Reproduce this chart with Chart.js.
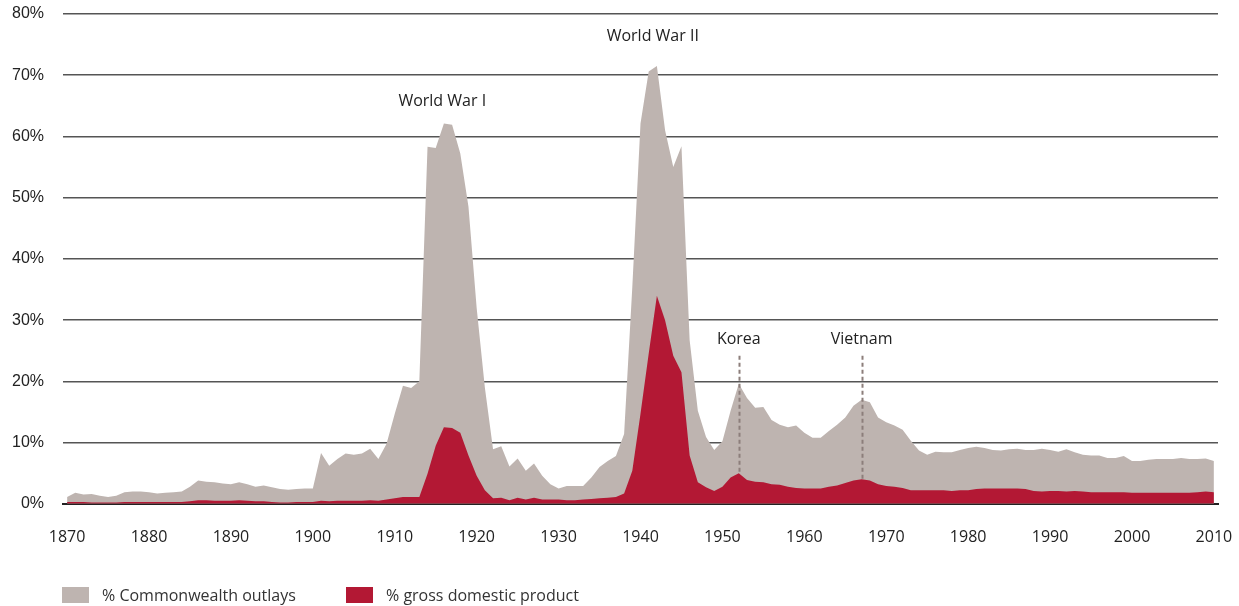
<!DOCTYPE html>
<html>
<head>
<meta charset="utf-8">
<script src="https://cdn.jsdelivr.net/npm/chart.js@4/dist/chart.umd.min.js"></script>
<style>
  body { margin: 0; background: #fff; }
  #wrap { position: relative; width: 1239px; height: 606px; }
  .legend { position: absolute; top: 584px; left: 62px; font: 16px "Open Sans", sans-serif; color: #333; }
  .legend span.item { position: absolute; white-space: nowrap; display: flex; align-items: center; }
  .legend i { display: inline-block; width: 27px; height: 16px; margin-right: 13px; }
</style>
</head>
<body>
<div id="wrap">
  <canvas id="chart" width="1239" height="606"></canvas>
  <div class="legend" id="legend"></div>
</div>
<script>
// years on the x axis
const years = [];
for (let y = 1870; y <= 2010; y++) years.push(y);

// % of Commonwealth outlays (grey)
const outlays = [
  1.1, 1.8, 1.5, 1.6, 1.3, 1.1, 1.3, 1.9, 2.0, 2.0,      // 1870s
  1.9, 1.7, 1.8, 1.9, 2.0, 2.8, 3.8, 3.6, 3.5, 3.3,      // 1880s
  3.2, 3.5, 3.2, 2.8, 3.0, 2.7, 2.4, 2.3, 2.4, 2.5,      // 1890s
  2.5, 8.3, 6.2, 7.3, 8.2, 8.0, 8.2, 9.0, 7.3, 9.8,      // 1900s
  14.7, 19.3, 18.9, 20.0, 58.3, 58.1, 62.1, 61.9, 57.2, 48.5, // 1910s
  32.0, 19.0, 8.9, 9.4, 6.1, 7.4, 5.4, 6.6, 4.6, 3.2,    // 1920s
  2.5, 2.9, 2.9, 2.9, 4.3, 6.0, 7.0, 7.8, 11.4, 35.4,    // 1930s
  62.1, 70.6, 71.5, 61.0, 55.0, 58.4, 26.7, 15.2, 10.9, 8.8, // 1940s
  10.2, 15.2, 19.6, 17.3, 15.7, 15.8, 13.7, 12.9, 12.5, 12.8, // 1950s
  11.6, 10.8, 10.8, 11.9, 12.9, 14.1, 16.0, 17.0, 16.6, 14.1, // 1960s
  13.3, 12.8, 12.1, 10.3, 8.7, 8.0, 8.5, 8.4, 8.4, 8.8,  // 1970s
  9.1, 9.3, 9.1, 8.8, 8.7, 8.9, 9.0, 8.8, 8.8, 9.0,      // 1980s
  8.8, 8.5, 8.9, 8.4, 8.0, 7.9, 7.9, 7.5, 7.5, 7.8,      // 1990s
  7.0, 7.0, 7.2, 7.3, 7.3, 7.3, 7.5, 7.3, 7.3, 7.4,      // 2000s
  7.0                                                    // 2010
];

// % of gross domestic product (red)
const gdp = [
  0.3, 0.3, 0.3, 0.2, 0.2, 0.2, 0.2, 0.3, 0.3, 0.3,
  0.3, 0.3, 0.3, 0.3, 0.3, 0.4, 0.6, 0.6, 0.5, 0.5,
  0.5, 0.6, 0.5, 0.4, 0.4, 0.3, 0.2, 0.2, 0.3, 0.3,
  0.3, 0.5, 0.4, 0.5, 0.5, 0.5, 0.5, 0.6, 0.5, 0.7,
  0.9, 1.1, 1.1, 1.1, 4.9, 9.5, 12.5, 12.4, 11.6, 7.9,
  4.6, 2.2, 0.9, 1.0, 0.6, 1.0, 0.7, 1.0, 0.7, 0.7,
  0.7, 0.6, 0.6, 0.7, 0.8, 0.9, 1.0, 1.1, 1.7, 5.4,
  14.7, 24.5, 34.0, 30.0, 24.2, 21.5, 7.9, 3.5, 2.7, 2.1,
  2.8, 4.3, 5.0, 3.9, 3.6, 3.5, 3.2, 3.1, 2.8, 2.6,
  2.5, 2.5, 2.5, 2.8, 3.0, 3.4, 3.8, 4.0, 3.8, 3.2,
  2.9, 2.8, 2.6, 2.2, 2.2, 2.2, 2.2, 2.2, 2.1, 2.2,
  2.2, 2.4, 2.5, 2.5, 2.5, 2.5, 2.5, 2.4, 2.1, 2.0,
  2.1, 2.1, 2.0, 2.1, 2.0, 1.9, 1.9, 1.9, 1.9, 1.9,
  1.8, 1.8, 1.8, 1.8, 1.8, 1.8, 1.8, 1.8, 1.9, 2.0,
  1.9
];

const yTicks = [0, 10, 20, 30, 40, 50, 60, 70, 80];
const xTicks = [1870, 1880, 1890, 1900, 1910, 1920, 1930, 1940, 1950, 1960, 1970, 1980, 1990, 2000, 2010];

// war labels
const warNames = ['World War I', 'World War II', 'Korea', 'Vietnam'];
const warLabelYears = [1915.8, 1941.5, 1952, 1967];
const warLabelValues = [65.8, 76.3, 26.8, 26.8];
const markerYears = [1952, 1967];   // dashed lines
const markerTop = 24.2;

const GREY = '#beb4b0';
const RED = '#b31834';

const seriesNames = ['% Commonwealth outlays', '% gross domestic product'];

// build the HTML legend
const legend = document.getElementById('legend');
[GREY, RED].forEach((c, i) => {
  const s = document.createElement('span');
  s.className = 'item';
  s.style.left = (i === 0 ? 0 : 284) + 'px';
  s.innerHTML = '<i style="background:' + c + '"></i>' + seriesNames[i];
  legend.appendChild(s);
});

const warLabels = {
  id: 'warLabels',
  afterDatasetsDraw(chart) {
    const { ctx, scales: { x, y } } = chart;
    ctx.save();
    // dashed markers
    ctx.strokeStyle = '#8c7e7b';
    ctx.lineWidth = 2;
    ctx.setLineDash([4, 3]);
    markerYears.forEach(yr => {
      const px = Math.round(x.getPixelForValue(yr)) + 0.5;
      const bottom = gdp[years.indexOf(yr)];
      ctx.beginPath();
      ctx.moveTo(px, y.getPixelForValue(markerTop));
      ctx.lineTo(px, y.getPixelForValue(bottom));
      ctx.stroke();
    });
    ctx.setLineDash([]);
    ctx.fillStyle = '#222';
    ctx.font = '16px "Open Sans", sans-serif';
    ctx.textAlign = 'center';
    ctx.textBaseline = 'middle';
    warNames.forEach((name, i) => {
      ctx.fillText(name, x.getPixelForValue(warLabelYears[i]), y.getPixelForValue(warLabelValues[i]));
    });
    ctx.restore();
  }
};

new Chart(document.getElementById('chart').getContext('2d'), {
  type: 'line',
  data: {
    labels: years,
    datasets: [
      {
        label: seriesNames[1],
        data: years.map((yr, i) => ({ x: yr, y: gdp[i] })),
        backgroundColor: RED,
        borderWidth: 0,
        pointRadius: 0,
        fill: 'origin',
        tension: 0,
        order: 0
      },
      {
        label: seriesNames[0],
        data: years.map((yr, i) => ({ x: yr, y: outlays[i] })),
        backgroundColor: GREY,
        borderWidth: 0,
        pointRadius: 0,
        fill: 'origin',
        tension: 0,
        order: 1
      }
    ]
  },
  options: {
    responsive: false,
    animation: false,
    layout: { padding: { left: 0, right: 21, top: 14, bottom: 35 } },
    plugins: {
      legend: { display: false },
      tooltip: { enabled: false }
    },
    scales: {
      x: {
        type: 'linear',
        min: 1869.5,
        max: 2010.5,
        afterBuildTicks: scale => { scale.ticks = xTicks.map(v => ({ value: v })); },
        afterFit: scale => { scale.paddingLeft = 0; scale.paddingRight = 0; },
        ticks: {
          padding: 24,
          color: '#222',
          font: { family: '"Open Sans", sans-serif', size: 16 },
          callback: v => String(v),
          maxRotation: 0,
          autoSkip: false
        },
        grid: { display: false, drawTicks: false },
        border: { display: true, color: '#222', width: 2 }
      },
      y: {
        min: 0,
        max: 80,
        afterBuildTicks: scale => { scale.ticks = yTicks.map(v => ({ value: v })); },
        afterFit: scale => { scale.width = 63; scale.paddingTop = 0; scale.paddingBottom = 0; },
        ticks: {
          padding: 19,
          color: '#222',
          font: { family: '"Liberation Sans", Arial, sans-serif', size: 16 },
          callback: v => v + '%'
        },
        grid: {
          color: ctx => ctx.tick && ctx.tick.value === 0 ? 'rgba(0,0,0,0)' : '#555',
          lineWidth: 1.5,
          drawTicks: false
        },
        border: { display: false }
      }
    }
  },
  plugins: [warLabels]
});
</script>
</body>
</html>
